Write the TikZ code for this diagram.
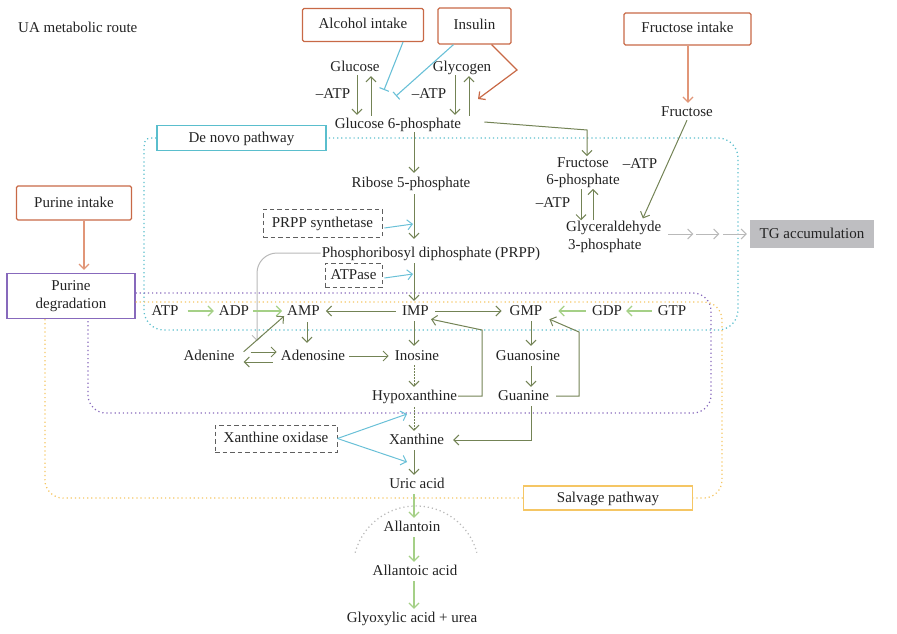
\documentclass[tikz,border=0pt]{standalone}
\usepackage{fontspec}
\setmainfont{Liberation Serif}
\usetikzlibrary{arrows.meta}
\definecolor{textc}{RGB}{35,35,35}
\definecolor{orangec}{RGB}{200,105,70}
\definecolor{lorange}{RGB}{225,150,120}
\definecolor{olivec}{RGB}{115,131,85}
\definecolor{lgreen}{RGB}{165,208,135}
\definecolor{bluec}{RGB}{105,192,215}
\definecolor{cyanc}{RGB}{90,190,205}
\definecolor{purplec}{RGB}{135,105,188}
\definecolor{yelc}{RGB}{245,198,100}
\definecolor{tgc}{RGB}{190,190,193}
\definecolor{dashc}{RGB}{95,95,95}
\definecolor{grayc}{RGB}{185,185,185}
\begin{document}
\begin{tikzpicture}[x=1pt,y=-1pt,
  every node/.style={font=\fontsize{15}{17.5}\selectfont, text=textc, inner sep=1pt},
  lbl/.style={text height=11pt,text depth=3pt},
  myarr/.style={-{Straight Barb[length=5pt,width=10pt]}},
  oa/.style={myarr, draw=olivec, line width=1pt},
  ga/.style={myarr, draw=lgreen, line width=1.2pt},
  ba/.style={myarr, draw=bluec, line width=1pt},
  bt/.style={-{Bar[width=10pt]}, draw=bluec, line width=1.1pt},
  ya/.style={myarr, draw=grayc, line width=1pt},
  ra/.style={myarr, draw=lorange, line width=1.2pt},
  rd/.style={myarr, draw=orangec, line width=1.2pt},
  obox/.style={lbl, draw=orangec, line width=1.2pt, rounded corners=1.5pt},
  dbox/.style={lbl, draw=dashc, line width=0.9pt, dash pattern=on 4.5pt off 3pt},
  dotline/.style={line width=1.25pt, dash pattern=on 1.2pt off 2.9pt},
  dotarr/.style={oa, dash pattern=on 1.5pt off 1.5pt}
]
\useasboundingbox (0,0) rectangle (897,634);

% axis coordinates
\coordinate (ax) at (414,0);
\coordinate (xg1) at (357,0);
\coordinate (xg2) at (371,0);
\coordinate (xy1) at (455,0);
\coordinate (xy2) at (469,0);
\coordinate (xf1) at (581,0);
\coordinate (xf2) at (593,0);
\coordinate (xfr) at (688,0);
\coordinate (xpi) at (84,0);
\coordinate (xam) at (307,0);
\coordinate (gx) at (531,0);
\coordinate (xk2) at (642,0);
\coordinate (xpd) at (88,0);
\coordinate (xpy) at (45,0);

% nodes
\node[lbl, anchor=west] (title) at (17,29) {UA metabolic route};
\node[obox, minimum width=121pt, minimum height=33pt] (alc) at (363,25) {Alcohol intake};
\node[obox, minimum width=73pt, minimum height=36pt] (ins) at (474.5,26) {Insulin};
\node[obox, minimum width=127pt, minimum height=32pt] (fint) at (687.5,29) {Fructose intake};
\node[lbl] (glc) at (355,67) {Glucose};
\node[lbl] (gly) at (462,67) {Glycogen};
\node[lbl] (m1) at (333,95) {–ATP};
\node[lbl] (m2) at (429,95) {–ATP};
\node[lbl] (g6p) at (398,124) {Glucose 6-phosphate};
\node[lbl, draw=cyanc, line width=1.2pt, minimum width=169pt, minimum height=25pt] (denovo) at (241.5,138) {De novo pathway};
\node[lbl] (r5p) at (411,183) {Ribose 5-phosphate};
\node[dbox, minimum width=119pt, minimum height=28pt] (prpps) at (322.5,223) {PRPP synthetase};
\node[lbl] (prpp) at (431,253) {Phosphoribosyl diphosphate (PRPP)};
\node[dbox, minimum width=57pt, minimum height=24pt] (atpase) at (353.5,275) {ATPase};
\node[lbl] (fru) at (687,112) {Fructose};
\node[align=center] (f6p) at (583,172.5) {Fructose\\6-phosphate};
\node[lbl] (m3) at (640,164) {–ATP};
\node[lbl] (m4) at (553,203) {–ATP};
\node[align=left, anchor=west] (gap) at (565,237) {Glyceraldehyde\\\hspace{2pt}3-phosphate};
\node[lbl, fill=tgc, minimum width=124pt, minimum height=28pt] (tg) at (812,234) {TG accumulation};
\node[obox, minimum width=115pt, minimum height=34pt] (pint) at (74,203) {Purine intake};
\node[align=center, draw=purplec, line width=1.2pt, minimum width=128pt, minimum height=45pt] (pdeg) at (71,296) {Purine\\degradation};

\node[lbl] (atp) at (165,311) {ATP};
\node[lbl] (adp) at (234,311) {ADP};
\node[lbl] (amp) at (303.5,311) {AMP};
\node[lbl] (imp) at (415.5,311) {IMP};
\node[lbl] (gmp) at (526,311) {GMP};
\node[lbl] (gdp) at (607,311) {GDP};
\node[lbl] (gtp) at (672,311) {GTP};
\node[lbl] (adenine) at (209,356) {Adenine};
\node[lbl] (adenosine) at (313,356) {Adenosine};
\node[lbl] (inosine) at (417,356) {Inosine};
\node[lbl] (guanosine) at (528,356) {Guanosine};
\node[lbl] (hypox) at (414.5,396) {Hypoxanthine};
\node[lbl] (guanine) at (523.5,396) {Guanine};
\node[lbl] (xan) at (416.5,440) {Xanthine};
\node[dbox, minimum width=122pt, minimum height=27pt] (xo) at (276,438.5) {Xanthine oxidase};
\node[lbl] (uric) at (417,484) {Uric acid};
\node[lbl] (allantoin) at (412,527) {Allantoin};
\node[lbl] (allantoic) at (415,571) {Allantoic acid};
\node[lbl] (glyox) at (412,618) {Glyoxylic acid + urea};
\node[lbl, draw=yelc, line width=1.2pt, minimum width=169pt, minimum height=24pt] (salv) at (608,498) {Salvage pathway};

% dotted regions
\draw[cyanc, dotline] (denovo.west) .. controls (144,138) .. (144,156) [rounded corners=20] -- (144,330) -- (738,330) -- (738,138) -- (denovo.east);
\draw[purplec, dotline, rounded corners=18] ([yshift=3]pdeg.east) -- (711,293) -- (711,413) -- (88,413) -- (pdeg.south -| xpd);
\draw[yelc, dotline, rounded corners=18] ([yshift=-6]pdeg.east) -- (722,302) -- (722,498) -- (salv.east);
\draw[yelc, dotline, rounded corners=18] (salv.west) -- (45,498) -- (pdeg.south -| xpy);
\draw[grayc, dotline] (416,569) ++(195:63) arc[start angle=195, end angle=345, radius=63];

% top: glucose / glycogen
\draw[oa, shorten >=1pt] (glc.south -| xg1) -- (g6p.north -| xg1);
\draw[oa, shorten >=1pt] (g6p.north -| xg2) -- (glc.south -| xg2);
\draw[oa, shorten >=1pt] (gly.south -| xy1) -- (g6p.north -| xy1);
\draw[oa, shorten >=1pt] (g6p.north -| xy2) -- (gly.south -| xy2);
\coordinate (alcT) at (384,90);
\coordinate (insT) at (396,96);
\draw[bt] ([xshift=40]alc.south) -- (alcT);
\draw[bt] ([xshift=-21]ins.south) -- (insT);
\coordinate (ik) at (517,70);
\coordinate (insA) at (478,99);
\draw[rd] ([xshift=17]ins.south) -- (ik) -- (insA);

% fructose branch
\coordinate (k1) at (587,130);
\draw[oa] ([xshift=22,yshift=2]g6p.east) -- (k1) -- (f6p.north -| k1);
\draw[ra, shorten >=1pt] (fint.south -| xfr) -- (fru.north -| xfr);
\draw[oa, shorten >=2pt] (fru.south) -- (gap.north -| xk2);
\draw[oa] (f6p.south -| xf1) -- (gap.north -| xf1);
\draw[oa] (gap.north -| xf2) -- (f6p.south -| xf2);
\draw[ya] (gap.east |- tg.west) ++(6,0) -- ++(25,0);
\draw[ya] (gap.east |- tg.west) ++(34,0) -- ++(23,0);
\draw[ya, shorten >=3pt] (gap.east |- tg.west) ++(61,0) -- (tg.west);

% main axis
\draw[oa, shorten >=2pt] (g6p.south -| ax) -- (r5p.north -| ax);
\draw[oa, shorten <=3pt, shorten >=6pt] (r5p.south -| ax) -- (prpp.north -| ax);
\coordinate (bp1) at (413,224);
\coordinate (bp2) at (413,274);
\draw[ba] ([xshift=2,yshift=-5]prpps.east) -- (bp1);
\draw[ba] ([xshift=2,yshift=-3]atpase.east) -- (bp2);
\draw[oa, shorten <=2pt, shorten >=2pt] (prpp.south -| ax) -- (imp.north -| ax);
\coordinate (adIn) at (257,341);
\draw[ya, rounded corners=20] (prpp.west) -| (adIn);

% purine intake
\draw[ra, shorten >=3pt] (pint.south -| xpi) -- (pdeg.north -| xpi);

% nucleotide row
\draw[ga, shorten <=8pt, shorten >=4pt] (atp.east) -- (adp.west);
\draw[ga, shorten <=3pt, shorten >=4pt] (adp.east) -- (amp.west);
\draw[oa, shorten <=5pt, shorten >=5pt] (imp.west) -- (amp.east);
\draw[oa, shorten <=5pt, shorten >=7pt] (imp.east) -- (gmp.west);
\draw[ga, shorten <=5pt, shorten >=15pt] (gdp.west) -- (gmp.east);
\draw[ga, shorten <=5pt, shorten >=3pt] (gtp.west) -- (gdp.east);

% adenine / adenosine
\draw[oa, shorten <=3pt, shorten >=5pt] (amp.south -| xam) -- (adenosine.north -| xam);
\draw[oa] ([xshift=8,yshift=-4]adenine.north east) -- ([xshift=-2,yshift=3]amp.south west);
\draw[oa, shorten <=15pt, shorten >=3pt] ([yshift=4]adenine.east) -- ([yshift=4]adenosine.west);
\draw[oa, shorten <=7pt, shorten >=8pt] ([yshift=-6]adenosine.west) -- ([yshift=-6]adenine.east);
\draw[oa, shorten <=3pt, shorten >=5pt] (adenosine.east) -- (inosine.west);

% inosine / hypoxanthine
\draw[oa, shorten <=2pt, shorten >=2pt] (imp.south -| ax) -- (inosine.north -| ax);
\draw[dotarr, shorten <=1pt, shorten >=1pt] (inosine.south -| ax) -- (hypox.north -| ax);
\coordinate (hx1) at (482,330);
\draw[oa] (hypox.east) -| (hx1) -- ([xshift=1]imp.south east);

% guanine branch
\draw[oa, shorten <=2pt, shorten >=2pt] (gmp.south -| gx) -- (guanosine.north -| gx);
\draw[oa, shorten <=2pt, shorten >=1pt] (guanosine.south -| gx) -- (guanine.north -| gx);
\coordinate (gy1) at (579,332);
\draw[oa, shorten <=6pt] (guanine.east) -| (gy1) -- ([xshift=6]gmp.south east);
\draw[oa, shorten <=2pt, shorten >=8pt] (guanine.south -| gx) |- (xan.east);

% xanthine / uric acid
\draw[dotarr, shorten <=3pt, shorten >=1pt] (hypox.south -| ax) -- (xan.north -| ax);
\draw[oa, shorten <=2pt, shorten >=1pt] (xan.south -| ax) -- (uric.north -| ax);
\coordinate (xo1) at (407,414);
\coordinate (xo2) at (407,462);
\draw[ba] (xo.east) -- (xo1);
\draw[ba] (xo.east) -- (xo2);
\draw[ga, shorten <=2pt, shorten >=1pt] (uric.south -| ax) -- (allantoin.north -| ax);
\draw[ga, shorten <=2pt, shorten >=1pt] (allantoin.south -| ax) -- (allantoic.north -| ax);
\draw[ga, shorten <=2pt, shorten >=1pt] (allantoic.south -| ax) -- (glyox.north -| ax);
\end{tikzpicture}
\end{document}
